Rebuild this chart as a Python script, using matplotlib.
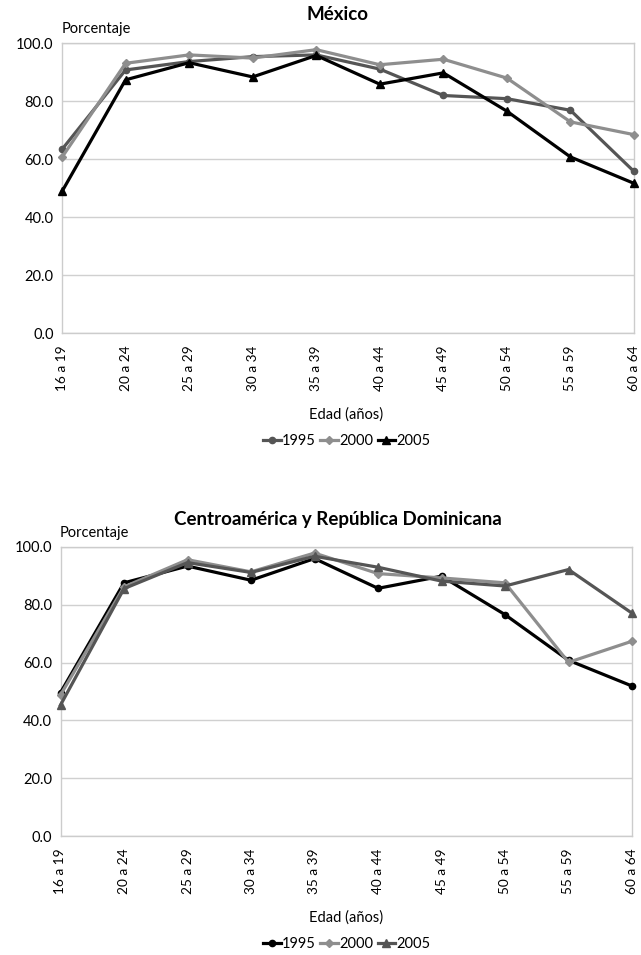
import numpy as np
import matplotlib
matplotlib.use("Agg")
import matplotlib.pyplot as plt
from matplotlib.lines import Line2D

plt.rcParams['font.family'] = ['Lato', 'DejaVu Sans']

edades = ["16 a 19", "20 a 24", "25 a 29", "30 a 34", "35 a 39",
          "40 a 44", "45 a 49", "50 a 54", "55 a 59", "60 a 64"]
anios = ["1995", "2000", "2005"]

# México
mex_1995 = [63.3, 90.7, 93.6, 95.3, 95.9, 91.0, 81.9, 80.8, 76.8, 55.7]
mex_2000 = [60.6, 93.0, 95.9, 94.8, 97.7, 92.5, 94.4, 87.9, 72.8, 68.4]
mex_2005 = [48.8, 87.3, 93.2, 88.3, 95.7, 85.8, 89.7, 76.5, 60.7, 51.6]

# Centroamérica y República Dominicana
cam_1995 = [49.6, 87.6, 93.4, 88.5, 96.0, 85.7, 89.9, 76.6, 60.8, 51.9]
cam_2000 = [48.8, 86.2, 95.6, 91.4, 97.9, 90.8, 89.3, 87.6, 60.1, 67.4]
cam_2005 = [45.3, 85.6, 94.6, 91.2, 96.8, 93.0, 88.2, 86.5, 92.2, 77.1]

W, H = 641, 955
DARK = "#555555"
LIGHT = "#8e8e8e"
BLACK = "#000000"


def px_axes(fig, left, top, right, bottom):
    return fig.add_axes([left / W, (H - bottom) / H, (right - left) / W, (bottom - top) / H])


def draw_panel(fig, ax, series, title, title_y, label_pos, xlabel_y, legend_y):
    x = np.arange(len(edades))
    for vals, color, marker, ms in series:
        ax.plot(x, vals, color=color, lw=2.3, marker=marker, ms=ms,
                clip_on=False, zorder=3)
    ax.set_xlim(0, len(edades) - 1)
    ax.set_ylim(0, 100)
    ax.set_yticks(np.arange(0, 101, 20))
    ax.set_yticklabels([f"{v:.1f}" for v in np.arange(0, 101, 20)], fontsize=10.5)
    ax.set_xticks(x)
    ax.set_xticklabels(edades, rotation=90, fontsize=9.8)
    ax.tick_params(length=0, pad=6)
    ax.tick_params(axis='x', pad=9)
    ax.grid(axis='y', color="#d0d0d0", lw=1)
    ax.set_axisbelow(True)
    for s in ax.spines.values():
        s.set_color("#cccccc")
        s.set_linewidth(1)

    fig.text(338 / W, 1 - title_y / H, title, ha='center', va='center',
             fontsize=13.5, fontweight='bold')
    fig.text(label_pos[0] / W, 1 - label_pos[1] / H, "Porcentaje",
             ha='left', va='center', fontsize=10.5)
    fig.text(346 / W, 1 - xlabel_y / H, "Edad (años)", ha='center',
             va='center', fontsize=10.5)

    handles = [Line2D([], [], color=c, lw=2.3, marker=m, ms=ms)
               for _, c, m, ms in series]
    fig.legend(handles, anios, loc='center', bbox_to_anchor=(347 / W, 1 - legend_y / H),
               ncol=3, frameon=False, fontsize=10.5, handlelength=1.2,
               handletextpad=0.1, columnspacing=0.3)


fig = plt.figure(figsize=(W / 100, H / 100), dpi=100)

ax1 = px_axes(fig, 62, 43, 634, 333)
draw_panel(fig, ax1,
           [(mex_1995, DARK, 'o', 4.5), (mex_2000, LIGHT, 'D', 4), (mex_2005, BLACK, '^', 5.5)],
           "México", 15, (62, 29), 415, 441)

ax2 = px_axes(fig, 60.5, 547, 632, 836)
draw_panel(fig, ax2,
           [(cam_1995, BLACK, 'o', 4.5), (cam_2000, LIGHT, 'D', 4), (cam_2005, DARK, '^', 5.5)],
           "Centroamérica y República Dominicana", 519, (60, 533), 918, 944)

fig.savefig("out.png", dpi=100)
